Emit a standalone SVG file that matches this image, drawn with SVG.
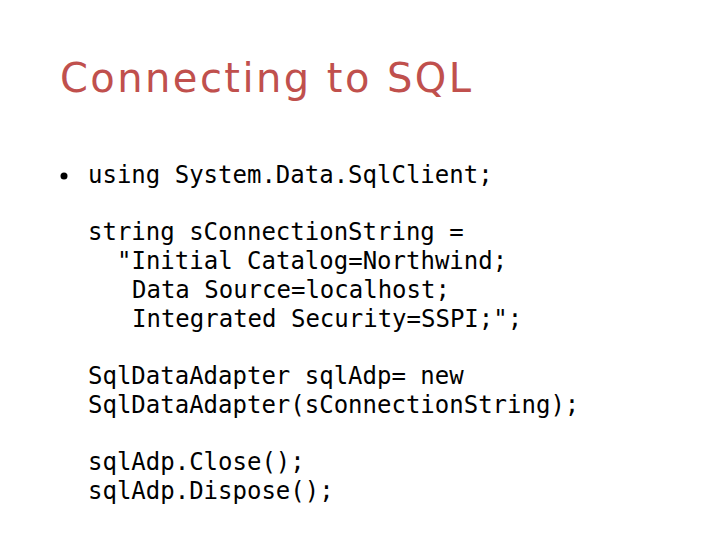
<svg xmlns="http://www.w3.org/2000/svg" width="720" height="540" viewBox="0 0 720 540">
<style>
.t{font-family:"DejaVu Sans","Liberation Sans",sans-serif;font-size:40px;fill:#C0504D}
.c{font-family:"DejaVu Sans Mono","Liberation Mono",monospace;font-size:24px;fill:#000;white-space:pre}
</style>
<rect width="720" height="540" fill="#fff"/>
<text class="t" x="60" y="92" textLength="411">Connecting to SQL</text>
<circle cx="64" cy="176" r="3.5" fill="#000"/>
<g class="c">
<text x="88" y="183">using System.Data.SqlClient;</text>
<text x="88" y="240">string sConnectionString =</text>
<text x="117" y="269">"Initial Catalog=Northwind;</text>
<text x="132" y="298">Data Source=localhost;</text>
<text x="132" y="327">Integrated Security=SSPI;";</text>
<text x="88" y="384">SqlDataAdapter sqlAdp= new</text>
<text x="88" y="413">SqlDataAdapter(sConnectionString);</text>
<text x="88" y="470">sqlAdp.Close();</text>
<text x="88" y="499">sqlAdp.Dispose();</text>
</g>
</svg>
